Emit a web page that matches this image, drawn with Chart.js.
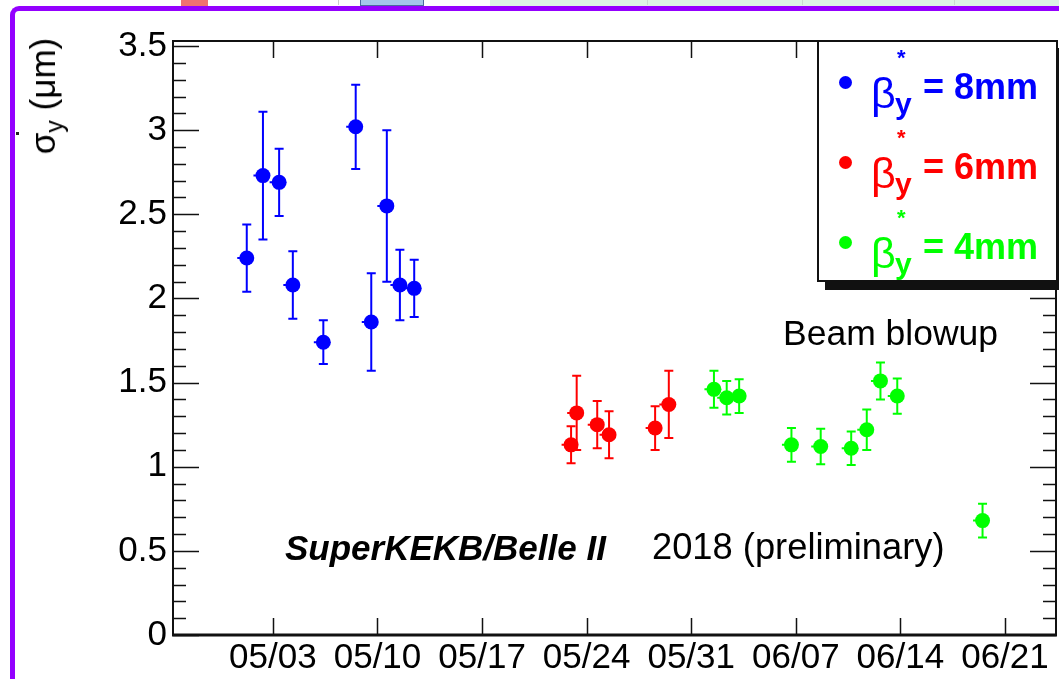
<!DOCTYPE html>
<html>
<head>
<meta charset="utf-8">
<script src="https://cdn.jsdelivr.net/npm/chart.js@4/dist/chart.umd.min.js"></script>
<style>
  html, body { margin: 0; padding: 0; background: #fff; }
  #wrap { position: relative; width: 1059px; height: 679px; overflow: hidden; background: #fff;
          font-family: "Liberation Sans", Arial, Helvetica, sans-serif; }
  #c { position: absolute; left: 0; top: 0; }
  .abs { position: absolute; white-space: nowrap; line-height: 1; }
</style>
</head>
<body>
<div id="wrap">
  <!-- top strip decorations -->
  <div class="abs" style="left:490px;top:0;width:569px;height:6px;background:#dcf6e4;"></div>
  <div class="abs" style="left:181px;top:0;width:27px;height:6px;background:#f07272;"></div>
  <div class="abs" style="left:360px;top:0;width:62px;height:5px;background:#a4c6ea;border:1px solid #4a6aa0;border-top:none;"></div>
  <div class="abs" style="left:338px;top:0;width:1px;height:5px;background:#ccc;"></div>
  <div class="abs" style="left:647px;top:0;width:1px;height:5px;background:#c8dccf;"></div>
  <div class="abs" style="left:802px;top:0;width:1px;height:5px;background:#c8dccf;"></div>
  <div class="abs" style="left:954px;top:0;width:1px;height:5px;background:#c8dccf;"></div>
  <!-- purple border -->
  <div class="abs" style="left:10px;top:6px;width:1100px;height:700px;border-left:5px solid #9400ff;border-top:5px solid #9400ff;border-top-left-radius:9px;"></div>
  <div class="abs" style="left:16px;top:132px;width:3px;height:3px;background:#222;"></div>
  <canvas id="c" width="1059" height="679"></canvas>
  <div id="overlay"></div>
</div>
<script>
// ---------------- data ----------------
const epoch = "2018-04-30T00:00";
const xMin = "2018-04-26T07:30";
const xMax = "2018-06-24T10:00";
const xTickDates  = ["2018-05-03","2018-05-10","2018-05-17","2018-05-24","2018-05-31","2018-06-07","2018-06-14","2018-06-21"];
const xTickLabels = ["05/03","05/10","05/17","05/24","05/31","06/07","06/14","06/21"];
const yTicks = [0, 0.5, 1, 1.5, 2, 2.5, 3, 3.5];
const yMax = 3.53;

const seriesLabels = ["β*y = 8mm", "β*y = 6mm", "β*y = 4mm"];
const legendValues = ["= 8mm", "= 6mm", "= 4mm"];
const seriesColors = ["#0000ff", "#ff0000", "#00ff00"];

const dates8mm = ["2018-05-01T06:00","2018-05-02T08:00","2018-05-03T10:00","2018-05-04T08:00","2018-05-06T09:00",
                  "2018-05-08T13:00","2018-05-09T14:00","2018-05-10T15:00","2018-05-11T12:00","2018-05-12T11:00"];
const sigma8mm = [2.24, 2.73, 2.69, 2.08, 1.74, 3.02, 1.86, 2.55, 2.08, 2.06];
const err8mm   = [0.20, 0.38, 0.20, 0.20, 0.13, 0.25, 0.29, 0.45, 0.21, 0.17];

const dates6mm = ["2018-05-22T23:00","2018-05-23T08:00","2018-05-24T17:00","2018-05-25T12:00","2018-05-28T14:00","2018-05-29T12:00"];
const sigma6mm = [1.13, 1.32, 1.25, 1.19, 1.23, 1.37];
const err6mm   = [0.11, 0.22, 0.14, 0.14, 0.13, 0.20];

const dates4mm = ["2018-06-01T12:30","2018-06-02T09:00","2018-06-03T05:00","2018-06-06T17:00","2018-06-08T16:00",
                  "2018-06-10T17:00","2018-06-11T18:00","2018-06-12T16:00","2018-06-13T19:00","2018-06-19T12:00"];
const sigma4mm = [1.46, 1.41, 1.42, 1.13, 1.12, 1.11, 1.22, 1.51, 1.42, 0.68];
const err4mm   = [0.11, 0.10, 0.10, 0.10, 0.105, 0.10, 0.12, 0.11, 0.105, 0.10];

const yTitle = ["σ", "y", " (μm)"];
const beamNote = "Beam blowup";
const expName = "SuperKEKB/Belle II";
const expNote = "2018 (preliminary)";

// ---------------- helpers ----------------
const FONT = '"Liberation Sans", Arial, Helvetica, sans-serif';
const AREA = { left: 173, right: 1056, top: 41, bottom: 635 };
function toDays(s) {
  const t = s.length === 10 ? s + "T00:00" : s;
  return (Date.parse(t + ":00Z") - Date.parse(epoch + ":00Z")) / 864e5;
}
function makePoints(dates, vals, errs) {
  return dates.map((d, i) => ({ x: toDays(d), y: vals[i], err: errs[i] }));
}
const xTickValues = xTickDates.map(toDays);

const datasets = [
  [dates8mm, sigma8mm, err8mm],
  [dates6mm, sigma6mm, err6mm],
  [dates4mm, sigma4mm, err4mm]
].map((s, k) => ({
  label: seriesLabels[k],
  data: makePoints(s[0], s[1], s[2]),
  backgroundColor: seriesColors[k],
  borderColor: seriesColors[k],
  borderWidth: 0,
  pointRadius: 7.5,
  pointHoverRadius: 7.5,
  pointStyle: 'circle'
}));

const errorBars = {
  id: 'errorBars',
  beforeDatasetsDraw(chart) {
    const ctx = chart.ctx, xs = chart.scales.x, ys = chart.scales.y;
    ctx.save();
    chart.data.datasets.forEach(ds => {
      ctx.strokeStyle = ds.borderColor;
      ctx.lineWidth = 2;
      ds.data.forEach(p => {
        const px = xs.getPixelForValue(p.x);
        const top = ys.getPixelForValue(p.y + p.err);
        const bot = ys.getPixelForValue(p.y - p.err);
        const mid = ys.getPixelForValue(p.y);
        ctx.beginPath();
        ctx.moveTo(px, top); ctx.lineTo(px, bot);
        ctx.moveTo(px - 4.5, top); ctx.lineTo(px + 4.5, top);
        ctx.moveTo(px - 4.5, bot); ctx.lineTo(px + 4.5, bot);
        ctx.moveTo(px - 9.5, mid); ctx.lineTo(px, mid);
        ctx.stroke();
      });
    });
    ctx.restore();
  }
};

const frame = {
  id: 'frame',
  afterDatasetsDraw(chart) {
    const ctx = chart.ctx, a = chart.chartArea, xs = chart.scales.x, ys = chart.scales.y;
    ctx.save();
    ctx.strokeStyle = '#111';
    ctx.lineWidth = 1.5;
    for (let i = 0; i <= 35; i++) {
      const v = i / 10;
      const py = Math.round(ys.getPixelForValue(v)) + 0.5;
      const len = (i % 5 === 0) ? 26 : 13;
      ctx.beginPath();
      ctx.moveTo(a.left, py); ctx.lineTo(a.left + len, py);
      ctx.moveTo(a.right, py); ctx.lineTo(a.right - len, py);
      ctx.stroke();
    }
    xTickValues.forEach(v => {
      const px = Math.round(xs.getPixelForValue(v)) + 0.5;
      ctx.beginPath();
      ctx.moveTo(px, a.bottom); ctx.lineTo(px, a.bottom - 17);
      ctx.moveTo(px, a.top); ctx.lineTo(px, a.top + 17);
      ctx.stroke();
    });
    ctx.lineWidth = 2;
    ctx.strokeRect(a.left, a.top, a.right - a.left, a.bottom - a.top);
    ctx.lineWidth = 3;
    ctx.beginPath(); ctx.moveTo(a.left - 1, a.bottom); ctx.lineTo(a.right + 1, a.bottom); ctx.stroke();
    ctx.restore();
  }
};

const chart = new Chart(document.getElementById('c'), {
  type: 'scatter',
  data: { datasets },
  options: {
    responsive: false,
    animation: false,
    devicePixelRatio: 1,
    layout: { autoPadding: false, padding: { top: AREA.top, right: 1059 - AREA.right, left: 0, bottom: 0 } },
    plugins: { legend: { display: false }, tooltip: { enabled: false } },
    scales: {
      x: {
        type: 'linear',
        min: toDays(xMin), max: toDays(xMax),
        afterBuildTicks(s) { s.ticks = xTickValues.map(v => ({ value: v })); },
        afterFit(s) { s.height = 679 - AREA.bottom; s.paddingLeft = 0; s.paddingRight = 0; },
        ticks: {
          autoSkip: false, maxRotation: 0, padding: 2, color: '#000',
          font: { family: FONT, size: 35 },
          callback(v) { const i = xTickValues.findIndex(t => Math.abs(t - v) < 1e-6); return i >= 0 ? xTickLabels[i] : ''; }
        },
        grid: { display: false, drawTicks: false },
        border: { display: false }
      },
      y: {
        min: 0, max: yMax,
        afterBuildTicks(s) { s.ticks = yTicks.map(v => ({ value: v })); },
        afterFit(s) { s.width = AREA.left; s.paddingTop = 0; s.paddingBottom = 0; },
        ticks: {
          padding: 6, color: '#000',
          font: { family: FONT, size: 35 },
          callback(v) { return String(v); }
        },
        grid: { display: false, drawTicks: false },
        border: { display: false }
      }
    }
  },
  plugins: [errorBars, frame]
});

// ---------------- overlay text ----------------
const ov = document.getElementById('overlay');
function txt(str, left, baseline, size, style) {
  const d = document.createElement('div');
  d.className = 'abs';
  d.textContent = str;
  d.style.left = left + 'px';
  d.style.top = (baseline - 0.8465 * size) + 'px';
  d.style.fontSize = size + 'px';
  d.style.cssText += style || '';
  ov.appendChild(d);
  return d;
}
(function () {
  const anchor = document.createElement('div');
  anchor.className = 'abs';
  anchor.style.left = '46px'; anchor.style.top = '96px';
  const s = document.createElement('div');
  s.className = 'abs';
  s.style.left = '0'; s.style.top = '0';
  s.style.fontSize = '35px';
  s.style.transform = 'translate(-50%,-50%) rotate(-90deg)';
  s.innerHTML = '<span>' + yTitle[0] + '</span><span style="font-size:25px;vertical-align:-8px;">' + yTitle[1] + '</span><span>' + yTitle[2] + '</span>';
  anchor.appendChild(s);
  ov.appendChild(anchor);
})();
txt(beamNote, 783, 346, 35.5, 'color:#000;');
txt(expName, 285, 560, 35, 'font-weight:bold;font-style:italic;color:#000;');
txt(expNote, 652, 560, 36.3, 'color:#000;');

(function () {
  const box = document.createElement('div');
  box.className = 'abs';
  box.style.cssText += 'left:817px;top:40px;width:237px;height:238px;border:2px solid #111;background:#fff;box-shadow:8px 8px 0 #111;';
  ov.appendChild(box);
  seriesColors.forEach((col, i) => {
    const dy = 80 * i;
    const dot = document.createElement('div');
    dot.className = 'abs';
    dot.style.cssText += 'left:838.5px;top:' + (75.5 + dy) + 'px;width:13px;height:13px;border-radius:50%;background:' + col + ';';
    ov.appendChild(dot);
    txt('β', 871, 108 + dy, 43, 'color:' + col + ';');
    txt('*', 897, 66 + dy, 22, 'color:' + col + ';font-weight:bold;');
    txt('y', 895, 114 + dy, 30, 'color:' + col + ';font-weight:bold;');
    txt(legendValues[i], 923, 99 + dy, 36, 'color:' + col + ';font-weight:bold;');
  });
})();
</script>
</body>
</html>
